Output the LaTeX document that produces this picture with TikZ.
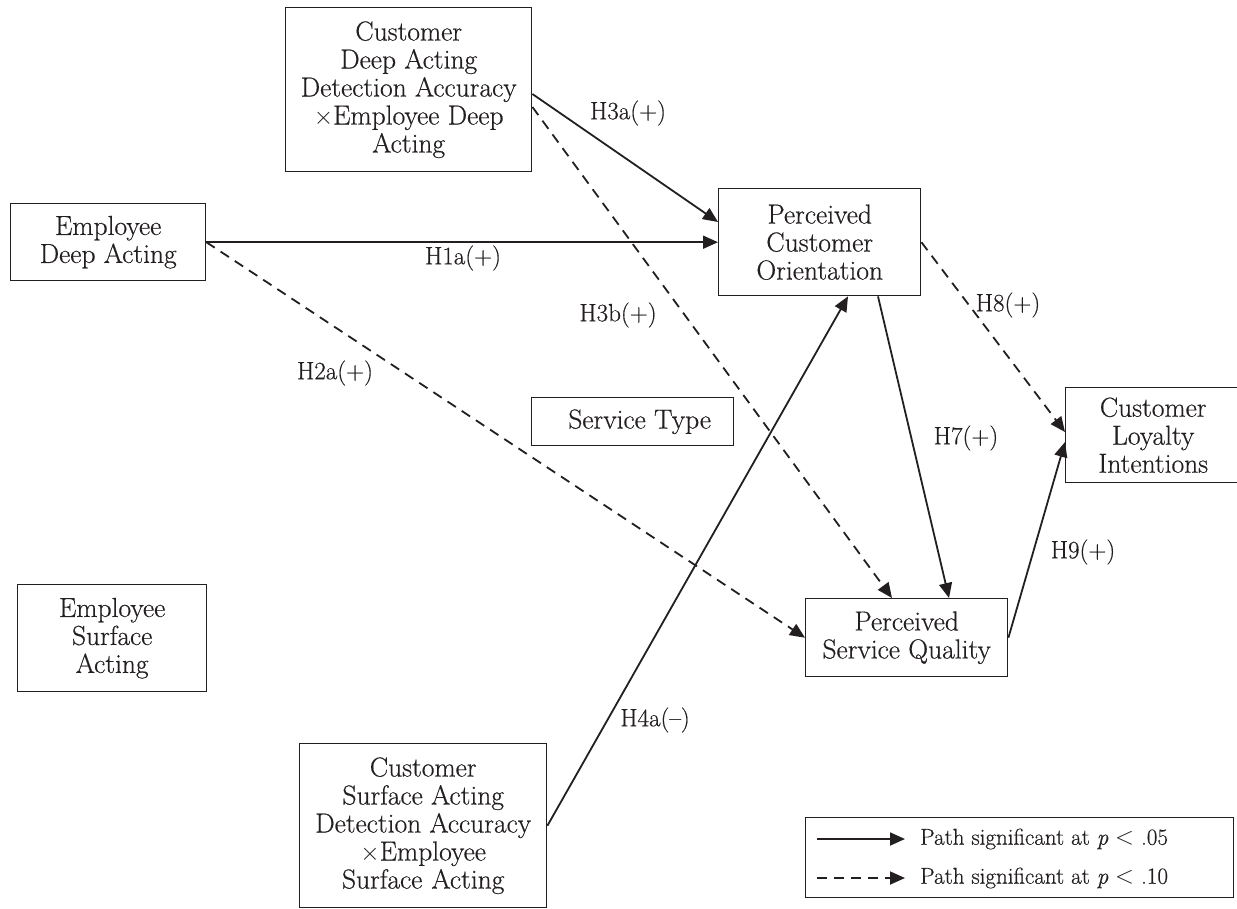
\documentclass[tikz,border=0pt]{standalone}
\usepackage{fontspec}
\setmainfont{Latin Modern Roman}[FakeBold=0.5]
\usetikzlibrary{arrows.meta}
\definecolor{ink}{RGB}{35,31,32}
\begin{document}
\begin{tikzpicture}[x=1pt,y=-1pt,
  box/.style={draw=ink, text=ink, line width=1.4pt, align=center, anchor=north west, inner sep=0pt, font=\fontsize{27.5}{28}\selectfont},
  lbl/.style={text=ink, font=\fontsize{25}{28}\selectfont, inner sep=0pt},
  conn/.style={draw=ink, line width=1.8pt, -{Triangle[length=15pt,width=13pt]}},
  dconn/.style={conn, dash pattern=on 10pt off 7pt},
  legtext/.style={text=ink, anchor=west, inner sep=0pt, font=\fontsize{23}{24}\selectfont},
]
\useasboundingbox (0,0) rectangle (1237,908);
\newcommand{\smtimes}{{\fontsize{23}{23}\selectfont$\times$}}

% boxes
\node[box, minimum width=246pt, minimum height=164pt] (cda) at (285,7)
  {Customer\\Deep Acting\\Detection Accuracy\\\smtimes Employee Deep\\Acting};
\node[box, minimum width=195pt, minimum height=77pt] (eda) at (10,203)
  {Employee\\Deep Acting};
\node[box, minimum width=202pt, minimum height=107pt] (pco) at (718,188)
  {Perceived\\Customer\\Orientation};
\node[box, minimum width=202pt, minimum height=48pt] (st) at (531,397)
  {\hspace*{14pt}Service Type};
\node[box, minimum width=175pt, minimum height=95pt] (cli) at (1065,387)
  {Customer\\Loyalty\\Intentions};
\node[box, minimum width=202pt, minimum height=78pt] (psq) at (805,598)
  {Perceived\\Service Quality};
\node[box, minimum width=189pt, minimum height=107pt] (esa) at (17,584)
  {Employee\\Surface\\Acting};
\node[box, minimum width=247pt, minimum height=164pt] (csa) at (299,743)
  {Customer\\Surface Acting\\Detection Accuracy\\\smtimes Employee\\Surface\,\,Acting};

% connectors
\draw[conn] ([yshift=-87pt]cda.north east) -- ([yshift=-34pt]pco.north west);
\draw[dconn] ([yshift=-100pt]cda.north east) -- ([xshift=87pt]psq.north west);
\draw[conn] (eda.east) -- (pco.west);
\draw[dconn] (eda.east) -- (psq.west);
\draw[conn] (csa.east) -- ([xshift=130pt]pco.south west);
\draw[conn] ([xshift=160pt]pco.south west) -- ([xshift=144pt]psq.north west);
\draw[dconn] (pco.east) -- ([yshift=-45pt]cli.north west);
\draw[conn] (psq.east) -- ([yshift=-55pt]cli.north west);

% labels
\node[lbl] (l3a) at (628,113) {H3a(+)};
\node[lbl] (l1a) at (463,258) {H1a(+)};
\node[lbl] (l3b) at (618,315) {H3b(+)};
\node[lbl] (l2a) at (335,373) {H2a(+)};
\node[lbl] (l8) at (1008,305) {H8(+)};
\node[lbl] (l7) at (966,438) {H7(+)};
\node[lbl] (l9) at (1083,552) {H9(+)};
\node[lbl] (l4a) at (655,720) {H4a(--)};

% legend
\node[draw=ink, line width=1.4pt, anchor=north west, minimum width=428pt, minimum height=80pt, inner sep=0pt] (leg) at (805,817) {};
\coordinate (s1) at (817,839);
\coordinate (e1) at (905,839);
\coordinate (s2) at (817,878);
\coordinate (e2) at (905,878);
\draw[conn] (s1) -- (e1);
\draw[dconn] (s2) -- (e2);
\node[legtext] (lt1) at (920,839) {Path significant at \textit{p} $<$ .05};
\node[legtext] (lt2) at (920,878) {Path significant at \textit{p} $<$ .10};
\end{tikzpicture}
\end{document}
